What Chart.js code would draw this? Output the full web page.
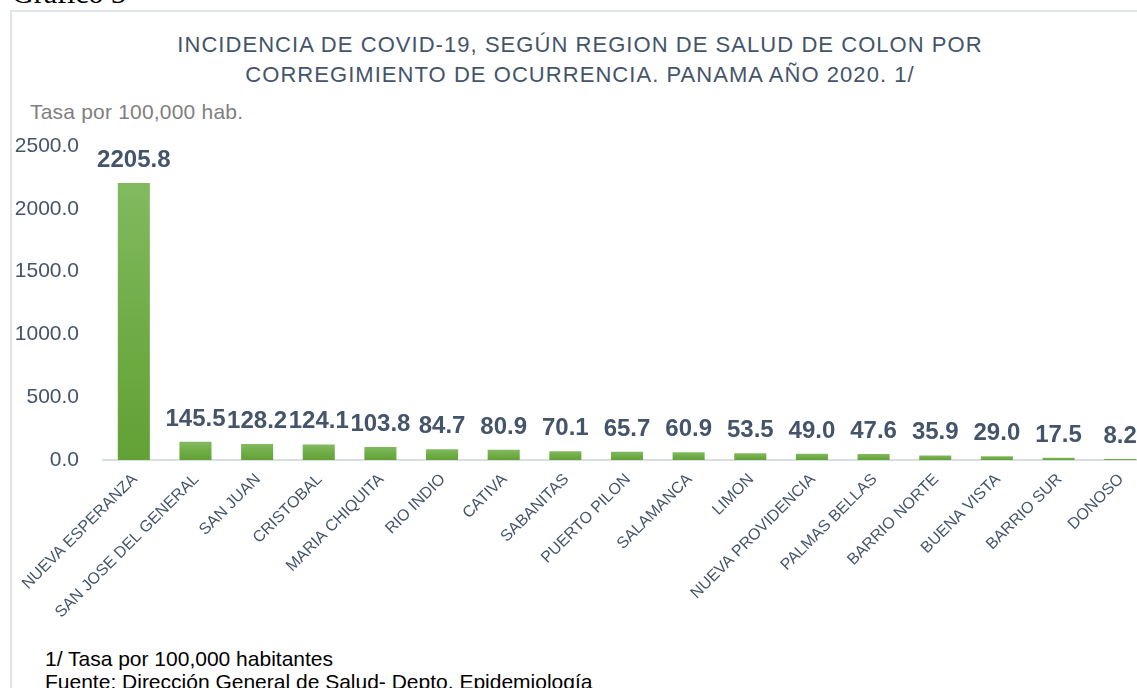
<!DOCTYPE html>
<html>
<head>
<meta charset="utf-8">
<script src="https://cdn.jsdelivr.net/npm/chart.js@4/dist/chart.umd.min.js"></script>
<style>
  html, body { margin: 0; padding: 0; background: #ffffff; overflow: hidden; }
  body { width: 1137px; height: 688px; position: relative; font-family: "Liberation Sans", Arial, sans-serif; overflow: hidden; }
  #frame { position: absolute; left: 10px; top: 10px; width: 1300px; height: 1000px; border-left: 2px solid #dfe3ea; border-top: 2px solid #dfe3ea; }
  #grafico { position: absolute; left: 12px; top: -22px; font-family: "Liberation Serif", "Times New Roman", serif; font-size: 30px; line-height: 30px; color: #000; white-space: nowrap; }
  #title { position: absolute; left: 80px; width: 1000px; top: 30px; text-align: center; font-size: 22px; letter-spacing: 1.05px; line-height: 30px; color: #44546a; }
  #unit { position: absolute; left: 30px; top: 100px; font-size: 21px; letter-spacing: 0.2px; color: #7f7f7f; white-space: nowrap; }
  #notes { position: absolute; left: 45px; top: 647px; font-size: 21px; line-height: 23px; color: #000; white-space: nowrap; }
  #wrap { position: absolute; left: 0; top: 0; width: 1160px; height: 688px; }
</style>
</head>
<body>
<div id="frame"></div>
<div id="grafico">Gráfico 3</div>
<div id="title">INCIDENCIA DE COVID-19, SEGÚN REGION DE SALUD DE COLON POR<br>CORREGIMIENTO DE OCURRENCIA. PANAMA AÑO 2020. 1/</div>
<div id="unit">Tasa por 100,000 hab.</div>
<div id="notes">1/ Tasa por 100,000 habitantes<br>Fuente: Dirección General de Salud- Depto. Epidemiología</div>
<div id="wrap"><canvas id="c" width="1160" height="688"></canvas></div>
<script>
const corregimientos = ["NUEVA ESPERANZA", "SAN JOSE DEL GENERAL", "SAN JUAN", "CRISTOBAL", "MARIA CHIQUITA", "RIO INDIO", "CATIVA", "SABANITAS", "PUERTO PILON", "SALAMANCA", "LIMON", "NUEVA PROVIDENCIA", "PALMAS BELLAS", "BARRIO NORTE", "BUENA VISTA", "BARRIO SUR", "DONOSO"];
const tasas = [2205.8, 145.5, 128.2, 124.1, 103.8, 84.7, 80.9, 70.1, 65.7, 60.9, 53.5, 49.0, 47.6, 35.9, 29.0, 17.5, 8.2];
const yTicks = [0, 500, 1000, 1500, 2000, 2500];

const textColor = "#44546a";

const labelPlugin = {
  id: "barLabels",
  afterDatasetsDraw(chart) {
    const ctx = chart.ctx;
    const meta = chart.getDatasetMeta(0);
    ctx.save();
    ctx.font = "bold 24px 'Liberation Sans', Arial, sans-serif";
    ctx.fillStyle = textColor;
    ctx.textAlign = "center";
    ctx.textBaseline = "alphabetic";
    meta.data.forEach((bar, i) => {
      ctx.fillText(tasas[i].toFixed(1), bar.x, bar.y - 16);
    });
    ctx.restore();
  }
};

new Chart(document.getElementById("c"), {
  type: "bar",
  data: {
    labels: corregimientos,
    datasets: [{
      data: tasas,
      backgroundColor: (context) => {
        const chart = context.chart;
        const y = chart.scales && chart.scales.y;
        if (!y || context.raw === undefined) return "#70ad47";
        const top = y.getPixelForValue(context.raw);
        const bot = y.getPixelForValue(0);
        if (!isFinite(top) || !isFinite(bot) || bot - top < 1) return "#7db85a";
        const g = chart.ctx.createLinearGradient(0, top, 0, bot);
        g.addColorStop(0, "#82ba60");
        g.addColorStop(0.5, "#70ad47");
        g.addColorStop(1, "#62a136");
        return g;
      },
      borderWidth: 0,
      barPercentage: 0.52,
      categoryPercentage: 1.0
    }]
  },
  options: {
    responsive: false,
    animation: false,
    devicePixelRatio: 1,
    layout: { padding: { top: 146, left: 0, right: 9, bottom: 0 } },
    plugins: {
      legend: { display: false },
      tooltip: { enabled: false },
      title: { display: false }
    },
    scales: {
      x: {
        grid: { display: false, drawTicks: false },
        border: { display: true, color: "#d9dde4", width: 2 },
        ticks: {
          autoSkip: false,
          minRotation: 45,
          maxRotation: 45,
          padding: 10,
          labelOffset: 1,
          color: textColor,
          font: { family: "'Liberation Sans', Arial, sans-serif", size: 16 }
        },
        afterFit: (s) => { s.height = 228; }
      },
      y: {
        min: 0,
        max: 2500,
        afterBuildTicks: (s) => { s.ticks = yTicks.map(v => ({ value: v })); },
        grid: { display: false, drawTicks: false },
        border: { display: false },
        ticks: {
          padding: 24,
          color: textColor,
          font: { family: "'Liberation Sans', Arial, sans-serif", size: 21 },
          callback: (v) => Number(v).toFixed(1)
        },
        afterFit: (s) => { s.width = 103; }
      }
    }
  },
  plugins: [labelPlugin]
});
</script>
</body>
</html>
